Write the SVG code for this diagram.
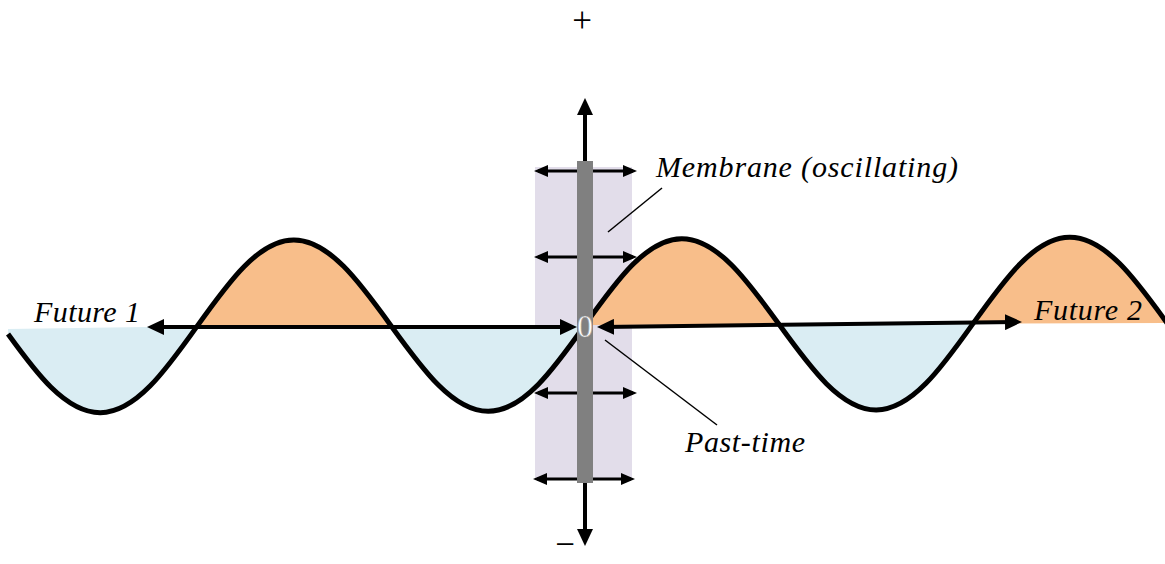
<svg xmlns="http://www.w3.org/2000/svg" width="1165" height="564" viewBox="0 0 1165 564">
<style>
.lbl{font-family:'Liberation Serif','Times New Roman',serif;font-style:italic;font-size:30px;fill:#000}
.sign{font-family:'Liberation Serif','Times New Roman',serif;font-size:35px;fill:#000;text-anchor:middle}
.zero{font-family:'Liberation Serif','Times New Roman',serif;font-size:32px;fill:#fff;stroke:#9a9a9a;stroke-width:0.6;text-anchor:middle}
.wave{fill:none;stroke:#000;stroke-width:5;stroke-linejoin:round}
.blue{fill:#DAEDF3}
.orange{fill:#F8BE8A}
.big{stroke:#000;stroke-width:4;fill:none;marker-start:url(#hb);marker-end:url(#hb)}
.small{stroke:#000;stroke-width:3;fill:none;marker-start:url(#hs);marker-end:url(#hs)}
.leader{stroke:#000;stroke-width:1.5;fill:none}
</style>
<defs>
<marker id="hb" viewBox="0 0 17 16" refX="12" refY="8" markerWidth="17" markerHeight="16" markerUnits="userSpaceOnUse" orient="auto-start-reverse"><path d="M0,0 L17,8 L0,16 z" fill="#000"/></marker>
<marker id="hs" viewBox="0 0 14 12" refX="10" refY="6" markerWidth="14" markerHeight="12" markerUnits="userSpaceOnUse" orient="auto-start-reverse"><path d="M0,0 L14,6 L0,12 z" fill="#000"/></marker>
</defs>
<rect id="membrane-zone" x="535" y="167" width="97" height="312" fill="#E2DDEA"/>
<g id="wave" transform="rotate(-0.2 585 325)">
<g id="troughs" class="blue">
<path d="M8,327 L8,332 C34.6,369.1 64.9,411 100,411 C135.1,411 165.4,369.1 197,325 Z"/>
<path d="M391,325 C422.6,369.1 452.9,411 488,411 C523.1,411 553.4,369.1 585,325 Z"/>
<path d="M779,325 C810.6,369.1 840.9,411 876,411 C911.1,411 941.4,369.1 973,325 Z"/>
</g>
<g id="peaks" class="orange">
<path d="M197,325 C228.6,280.9 258.9,239 294,239 C329.1,239 359.4,280.9 391,325 Z"/>
<path d="M585,325 C616.6,280.9 646.9,239 682,239 C717.1,239 747.4,280.9 779,325 Z"/>
<path d="M973,325 C1004.6,280.9 1034.9,239 1070,239 C1105.1,239 1135.4,280.9 1167,325 Z"/>
</g>
<path class="wave" d="M8,332 C34.6,369.1 64.9,411 100,411 C135.1,411 165.4,369.1 197,325 C228.6,280.9 258.9,239 294,239 C329.1,239 359.4,280.9 391,325 C422.6,369.1 452.9,411 488,411 C523.1,411 553.4,369.1 585,325 C616.6,280.9 646.9,239 682,239 C717.1,239 747.4,280.9 779,325 C810.6,369.1 840.9,411 876,411 C911.1,411 941.4,369.1 973,325 C1004.6,280.9 1034.9,239 1070,239 C1105.1,239 1135.4,280.9 1167,325"/>
</g>
<g id="connectors">
<line class="small" x1="538" y1="171" x2="633" y2="171"/>
<line class="small" x1="538" y1="257" x2="633" y2="257"/>
<line class="small" x1="538" y1="393" x2="633" y2="393"/>
<line class="small" x1="537" y1="479" x2="631" y2="479"/>
<line class="big" x1="585" y1="103" x2="585" y2="541"/>
</g>
<g id="membrane">
<rect x="577" y="161" width="16" height="322" fill="#808080"/>
<text class="zero" x="585" y="337">0</text>
</g>
<g id="time-arrows">
<line class="big" x1="152" y1="327" x2="572" y2="327"/>
<line class="big" x1="602" y1="327" x2="1017" y2="322"/>
</g>
<g id="leaders">
<line class="leader" x1="608" y1="232" x2="662" y2="188"/>
<line class="leader" x1="605" y1="340" x2="717" y2="425"/>
</g>
<g id="labels">
<text class="sign" x="582" y="32">+</text>
<text class="sign" x="565" y="556">−</text>
<text id="future1" class="lbl" x="34" y="322" textLength="106" lengthAdjust="spacing">Future 1</text>
<text id="future2" class="lbl" x="1034" y="320" textLength="108" lengthAdjust="spacing">Future 2</text>
<text id="membrane-label" class="lbl" x="656" y="177" textLength="302" lengthAdjust="spacing">Membrane (oscillating)</text>
<text id="past-label" class="lbl" x="685" y="452" textLength="120" lengthAdjust="spacing">Past-time</text>
</g>
</svg>
